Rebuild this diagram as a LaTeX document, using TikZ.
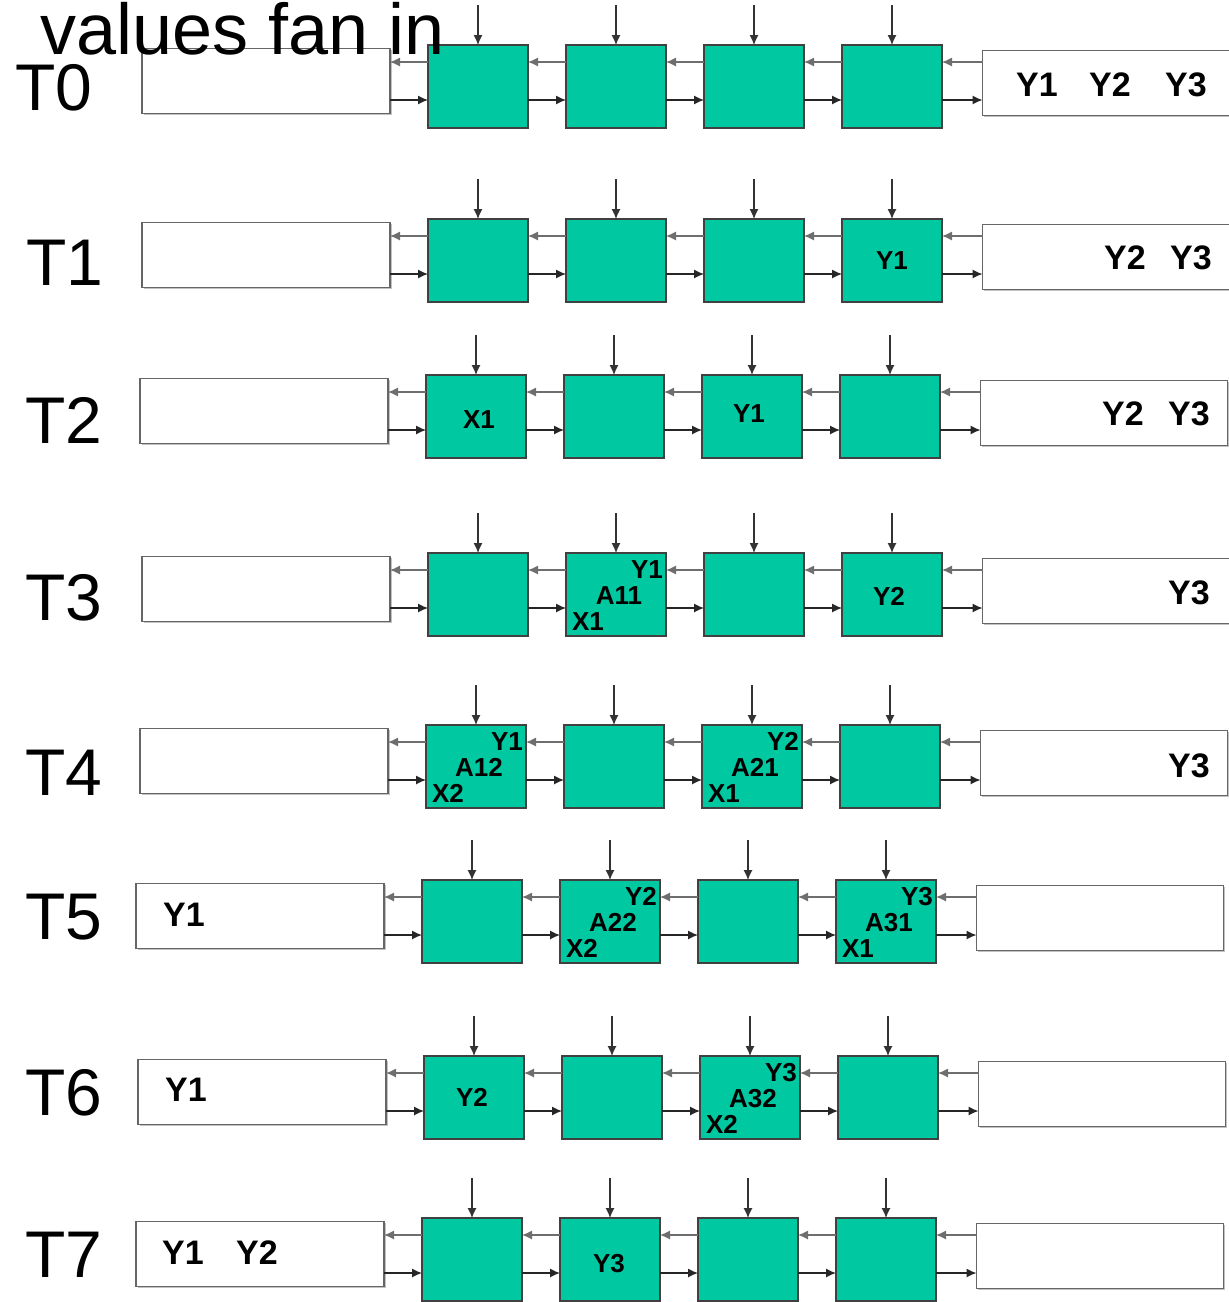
\documentclass[tikz,border=0pt]{standalone}
\usepackage{fontspec}
\setmainfont{Liberation Sans}
\usepackage{xcolor}
\usepackage{tikz}
\usetikzlibrary{arrows.meta,calc,shadows}

\definecolor{cellgreen}{RGB}{0,200,160}
\definecolor{wiregray}{RGB}{110,110,110}

% three labels inside one cell: out value, accumulated product, in value
\newcommand\trio[4]{%
  \node [clabel] (#1y) at ($(#1)+(31,-25)$) {#2};
  \node [clabel] (#1a) at ($(#1)+(3,1)$) {#3};
  \node [clabel] (#1x) at ($(#1)+(-28,27)$) {#4};
}

\begin{document}
\begin{tikzpicture}[
    x=0.5pt, y=-0.5pt,
    cell/.style={rectangle, draw=black!75, fill=cellgreen, line width=0.8pt, inner sep=0pt, outer sep=0pt, minimum width=50pt, minimum height=41.5pt},
    qbox/.style={rectangle, draw=black!60, fill=white, line width=0.7pt, inner sep=0pt, outer sep=0pt, minimum width=124pt, minimum height=32.5pt, drop shadow={shadow xshift=0.8pt, shadow yshift=-0.8pt, fill=black!40, opacity=0.6}},
    clabel/.style={inner sep=0pt, font=\bfseries\fontsize{13}{13}\selectfont},
    qlabel/.style={inner sep=0pt, font=\bfseries\fontsize{17}{17}\selectfont},
    tlabel/.style={inner sep=0pt, anchor=base west, font=\fontsize{33}{33}\selectfont},
    fwd/.style={-{Latex[length=5pt, width=4.6pt]}, line width=0.75pt, draw=black!85},
    back/.style={-{Latex[length=5pt, width=4.6pt]}, line width=0.75pt, draw=wiregray},
    inarrow/.style={-{Latex[length=5pt, width=4.6pt]}, line width=0.75pt, draw=black!80}
]
    \useasboundingbox (0,0) rectangle (1229,1302);

    \foreach \r/\t/\dx in {0/45/0, 1/219/0, 2/375/-2, 3/553/0, 4/725/-2, 5/880/-6, 6/1056/-4, 7/1218/-6} {
        \node [qbox] (l\r) at (\dx+266, \t+36) {};
        \node [qbox, minimum width=123.5pt] (r\r) at (\dx+1106, \t+38) {};
        \node [cell] (c\r1) at (\dx+478, \t+41.5) {};
        \node [cell] (c\r2) at (\dx+616, \t+41.5) {};
        \node [cell] (c\r3) at (\dx+754, \t+41.5) {};
        \node [cell] (c\r4) at (\dx+892, \t+41.5) {};
        \coordinate (u\r) at (0, \t+17);
        \coordinate (d\r) at (0, \t+55);

        \foreach \k in {1,...,4}
            \draw [inarrow] (c\r\k.north) ++(0,-40) -- (c\r\k.north);

        \draw [back] (c\r1.west |- u\r) -- (l\r.east |- u\r);
        \draw [fwd] (l\r.east |- d\r) -- (c\r1.west |- d\r);
        \foreach \a/\b in {1/2, 2/3, 3/4} {
            \draw [back] (c\r\b.west |- u\r) -- (c\r\a.east |- u\r);
            \draw [fwd] (c\r\a.east |- d\r) -- (c\r\b.west |- d\r);
        }
        \draw [back] (r\r.west |- u\r) -- (c\r4.east |- u\r);
        \draw [fwd] (c\r4.east |- d\r) -- (r\r.west |- d\r);
    }

    % time steps
    \node [tlabel] (t0) at (15,110) {T0};
    \node [tlabel] (t1) at (26,285) {T1};
    \node [tlabel] (t2) at (25,443) {T2};
    \node [tlabel] (t3) at (25,620) {T3};
    \node [tlabel] (t4) at (25,795) {T4};
    \node [tlabel] (t5) at (25,939) {T5};
    \node [tlabel] (t6) at (25,1115) {T6};
    \node [tlabel] (t7) at (25,1277) {T7};

    % values waiting in the queues
    \node [qlabel] (q0a) at (1037,85) {Y1};
    \node [qlabel] (q0b) at (1110,85) {Y2};
    \node [qlabel] (q0c) at (1186,85) {Y3};
    \node [qlabel] (q1a) at (1125,258) {Y2};
    \node [qlabel] (q1b) at (1191,258) {Y3};
    \node [qlabel] (q2a) at (1123,414) {Y2};
    \node [qlabel] (q2b) at (1189,414) {Y3};
    \node [qlabel] (q3a) at (1189,593) {Y3};
    \node [qlabel] (q4a) at (1189,766) {Y3};
    \node [qlabel] (q5a) at (184,915) {Y1};
    \node [qlabel] (q6a) at (186,1090) {Y1};
    \node [qlabel] (q7a) at (183,1253) {Y1};
    \node [qlabel] (q7b) at (257,1253) {Y2};

    % values inside the cells
    \node [clabel] (c14y) at (c14) {Y1};
    \node [clabel] (c21x) at ($(c21)+(3,3)$) {X1};
    \node [clabel] (c23y) at ($(c23)+(-3,-3)$) {Y1};
    \node [clabel] (c34y) at ($(c34)+(-3,2)$) {Y2};
    \node [clabel] (c61y) at ($(c61)+(-2,0)$) {Y2};
    \node [clabel] (c72y) at ($(c72)+(-1,4)$) {Y3};
    \trio{c32}{Y1}{A11}{X1}
    \trio{c41}{Y1}{A12}{X2}
    \trio{c43}{Y2}{A21}{X1}
    \trio{c52}{Y2}{A22}{X2}
    \trio{c54}{Y3}{A31}{X1}
    \trio{c63}{Y3}{A32}{X2}

    \node [tlabel, font=\fontsize{36}{36}\selectfont] (title) at (40,54) {values fan in};
\end{tikzpicture}
\end{document}
